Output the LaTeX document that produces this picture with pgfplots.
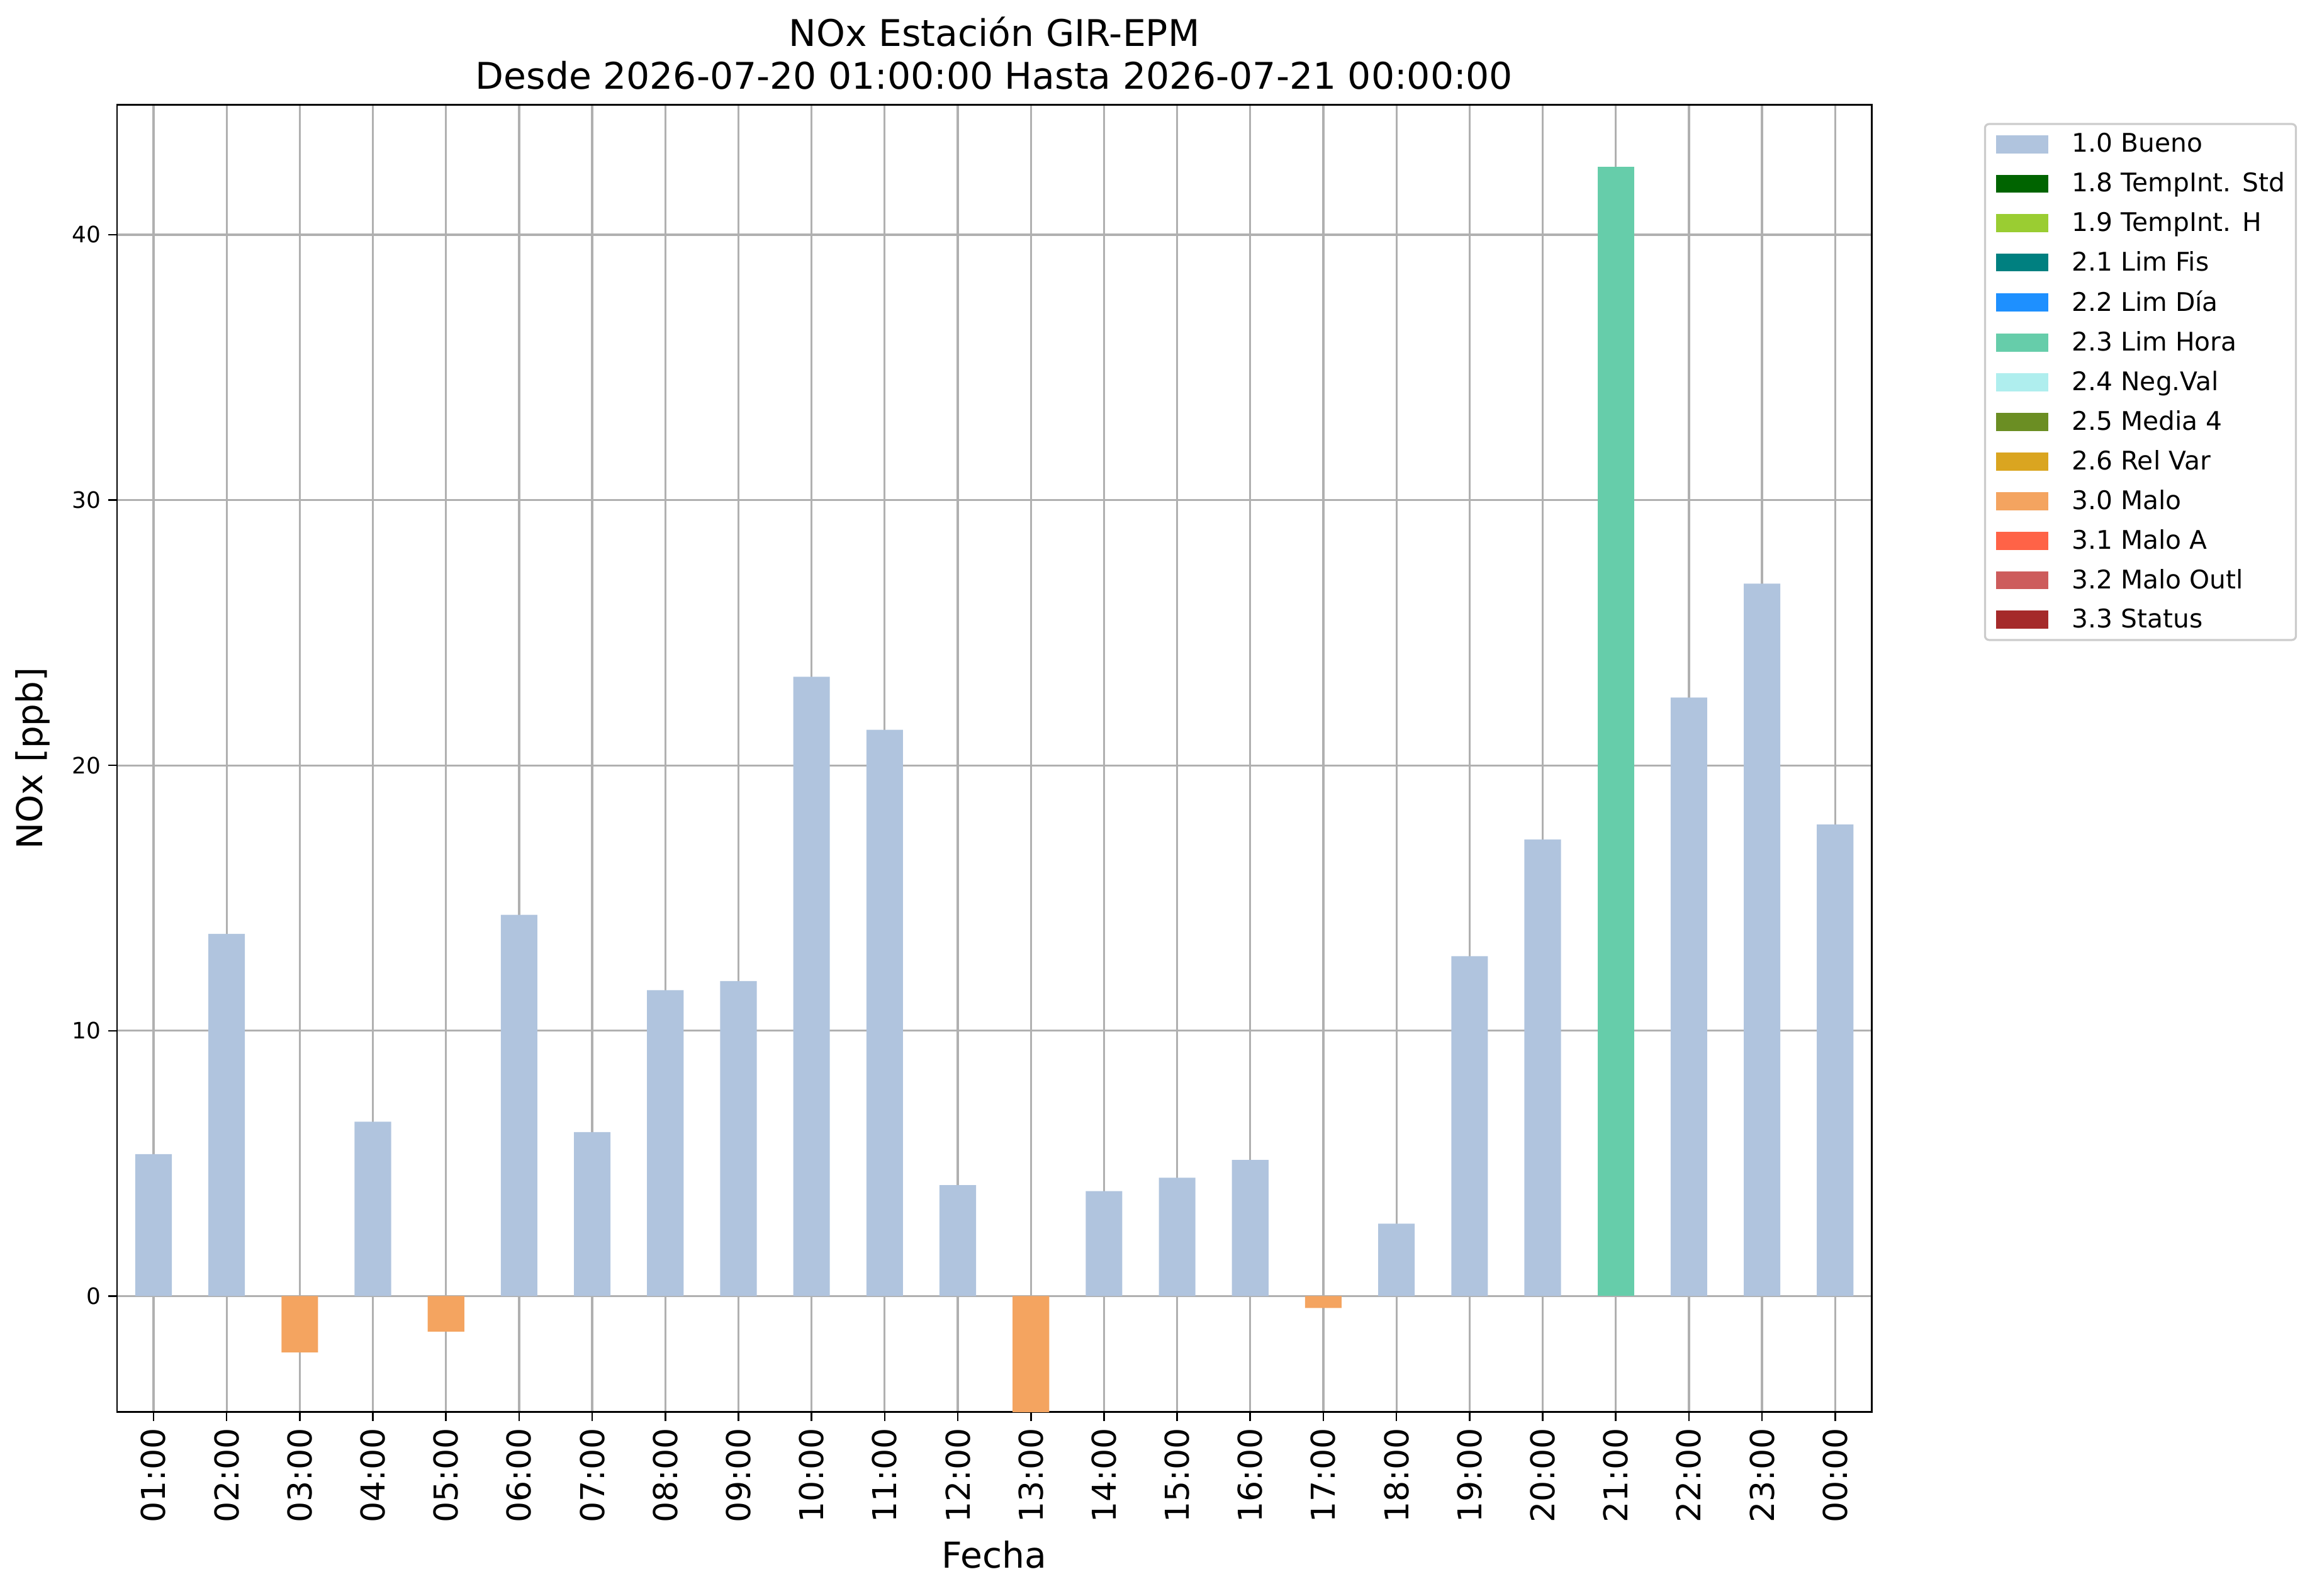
\documentclass[border=0pt]{standalone}
\usepackage{fontspec}
\setmainfont{DejaVu Sans}
\usepackage{pgfplots}
\pgfplotsset{compat=1.18}
\definecolor{c10}{HTML}{B0C4DE}
\definecolor{c18}{HTML}{006400}
\definecolor{c19}{HTML}{9ACD32}
\definecolor{c21}{HTML}{008080}
\definecolor{c22}{HTML}{1E90FF}
\definecolor{c23}{HTML}{66CDAA}
\definecolor{c24}{HTML}{AFEEEE}
\definecolor{c25}{HTML}{6B8E23}
\definecolor{c26}{HTML}{DAA520}
\definecolor{c30}{HTML}{F4A460}
\definecolor{c31}{HTML}{FF6347}
\definecolor{c32}{HTML}{CD5C5C}
\definecolor{c33}{HTML}{A52A2A}
\definecolor{gridc}{HTML}{B0B0B0}
\begin{document}
\begin{tikzpicture}
\useasboundingbox (-57pt,-89.6pt) rectangle (1072pt,688pt);
\begin{axis}[
  at={(0,0)}, anchor=south west,
  scale only axis, width=855pt, height=637pt,
  xmin=-0.5, xmax=23.5, ymin=-4.37, ymax=44.9,
  xtick={0,...,23},
  xticklabels={01:00,02:00,03:00,04:00,05:00,06:00,07:00,08:00,09:00,10:00,11:00,12:00,13:00,14:00,15:00,16:00,17:00,18:00,19:00,20:00,21:00,22:00,23:00,00:00},
  ytick={0,10,20,30,40},
  /pgf/number format/assume math mode=true,
  tick align=outside, tick pos=left,
  major tick length=4.3pt,
  tick style={black, line width=0.8pt},
  xticklabel style={rotate=90, anchor=east, font=\fontsize{16}{19}\selectfont},
  yticklabel style={font=\fontsize{11}{13}\selectfont},
  grid=major,
  major grid style={gridc, line width=1pt},
  axis line style={line width=0.8pt},
  xlabel={Fecha},
  ylabel={NOx [ppb]},
  xlabel style={at={(axis description cs:0.5,-0.109)}, anchor=center, font=\fontsize{17.4}{20}\selectfont},
  ylabel style={at={(axis description cs:-0.0482,0.5)}, anchor=center, font=\fontsize{17.3}{20}\selectfont},
  legend image code/.code={\fill[#1, draw=none, sharp corners] (0pt,-4.4pt) rectangle (25.5pt,4.4pt);},
  legend style={at={(axis description cs:1.064,0.986)}, anchor=north west,
    draw=black!20, line width=1pt, rounded corners=2pt,
    font=\fontsize{12.5}{15}\selectfont, row sep=4.3pt, inner xsep=5.4pt, inner ysep=2.5pt,
    cells={anchor=west}, nodes={inner xsep=0pt},
    /tikz/every odd column/.append style={column sep=11.5pt}},
  legend cell align=left,
]
\addplot[ybar, bar width=0.5, bar shift=0pt, fill=c10, draw=none, forget plot] coordinates {
(0,5.35)(1,13.65)(3,6.57)(5,14.37)(6,6.18)(7,11.53)(8,11.87)(9,23.34)(10,21.34)(11,4.18)(13,3.96)(14,4.46)(15,5.13)(17,2.73)(18,12.81)(19,17.21)(21,22.56)(22,26.85)(23,17.77)};
\addplot[ybar, bar width=0.5, bar shift=0pt, fill=c30, draw=none, forget plot] coordinates {
(2,-2.12)(4,-1.34)(12,-5)(16,-0.45)};
\addplot[ybar, bar width=0.5, bar shift=0pt, fill=c23, draw=none, forget plot] coordinates {
(20,42.56)};
\addlegendimage{fill=c10}\addlegendentry{1.0 Bueno}
\addlegendimage{fill=c18}\addlegendentry{1.8 TempInt. Std}
\addlegendimage{fill=c19}\addlegendentry{1.9 TempInt. H}
\addlegendimage{fill=c21}\addlegendentry{2.1 Lim Fis}
\addlegendimage{fill=c22}\addlegendentry{2.2 Lim Día}
\addlegendimage{fill=c23}\addlegendentry{2.3 Lim Hora}
\addlegendimage{fill=c24}\addlegendentry{2.4 Neg.Val}
\addlegendimage{fill=c25}\addlegendentry{2.5 Media 4}
\addlegendimage{fill=c26}\addlegendentry{2.6 Rel Var}
\addlegendimage{fill=c30}\addlegendentry{3.0 Malo}
\addlegendimage{fill=c31}\addlegendentry{3.1 Malo A}
\addlegendimage{fill=c32}\addlegendentry{3.2 Malo Outl}
\addlegendimage{fill=c33}\addlegendentry{3.3 Status}
\end{axis}
\node[anchor=base, font=\fontsize{17.9}{21}\selectfont] at (427.5pt,665.6pt) {NOx Estación GIR-EPM};
\node[anchor=base, font=\fontsize{17.9}{21}\selectfont] at (427.5pt,644.6pt) {Desde 2026-07-20 01:00:00 Hasta 2026-07-21 00:00:00};
\end{tikzpicture}
\end{document}
